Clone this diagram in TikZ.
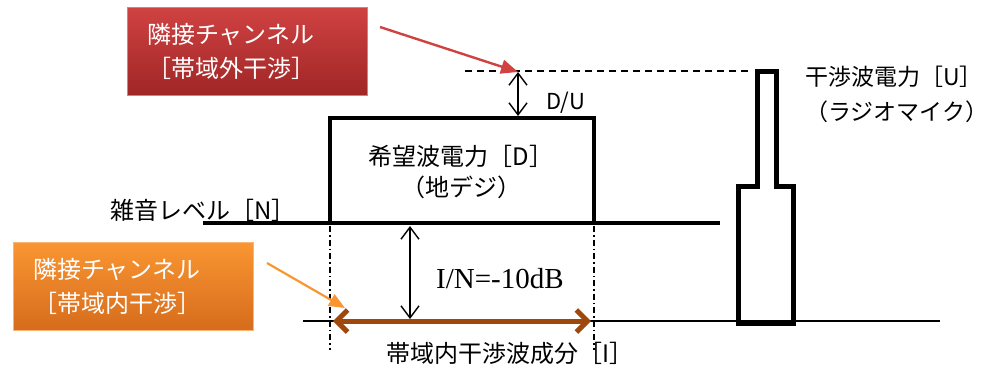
\documentclass[tikz,border=0pt]{standalone}
\usepackage{fontspec}
\setmainfont{Noto Sans CJK JP}
\newfontfamily\serifnum{Liberation Serif}
\usetikzlibrary{arrows.meta}
\definecolor{redtop}{RGB}{208,66,66}
\definecolor{redbot}{RGB}{160,38,38}
\definecolor{orangetop}{RGB}{250,150,50}
\definecolor{orangebot}{RGB}{214,108,28}
\definecolor{brownline}{RGB}{158,72,14}
\tikzset{
  note/.style={minimum width=240pt,minimum height=88pt,text width=200pt,inner xsep=20pt,
    text=white,align=left,font=\fontsize{24}{34}\selectfont},
  txt/.style={font=\fontsize{24}{31}\selectfont,align=left,inner sep=0pt},
  thinarrow/.style={line width=1.4pt,{Straight Barb[length=12pt,width=18pt]}-{Straight Barb[length=12pt,width=18pt]}},
  guide/.style={line width=1.2pt,dash pattern=on 6pt off 3pt on 1.5pt off 3pt},
}
\begin{document}
\begin{tikzpicture}[x=1pt,y=-1pt]
  \useasboundingbox (0,0) rectangle (987,368);
  % notes
  \node[note,top color=redtop,bottom color=redbot,draw=redtop!70!white] (outer) at (247,51)
    {隣接チャンネル\\［帯域外干渉］};
  \node[note,top color=orangetop,bottom color=orangebot,draw=orangetop!70!white] (inner) at (133,286)
    {隣接チャンネル\\［帯域内干渉］};
  % levels
  \draw[line width=1.3pt,dash pattern=on 7pt off 5pt] (465,71) -- (752,71);
  \draw[line width=4pt] (203,223) -- (720,223);
  \draw[line width=4.5pt] (330,223) -- (330,118) -- (594,118) -- (594,223);
  \draw[line width=2.5pt] (303,321) -- (940,321);
  \draw[line width=5pt] (738,323) -- (738,186) -- (757,186) -- (757,71) -- (776,71)
    -- (776,186) -- (793,186) -- (793,323) -- cycle;
  \draw[guide] (330,226) -- (330,350);
  \draw[guide] (594,226) -- (594,350);
  % points
  \coordinate (dutop) at (518,72);
  \coordinate (dubot) at (518,116);
  \coordinate (intop) at (410,226);
  \coordinate (inbot) at (410,319);
  \coordinate (ileft) at (333,321);
  \coordinate (iright) at (591,321);
  \coordinate (redfrom) at (380,27);
  \coordinate (orangefrom) at (267,263);
  \coordinate (orangeto) at (345,308);
  % texts
  \node[txt,align=center] (wanted) at (461,172) {希望波電力［D］\\（地デジ）};
  \node[txt,anchor=west] (noise) at (110,210) {雑音レベル［N］};
  \node[txt,anchor=west,font=\fontsize{22}{30}\selectfont] (du) at (546,103) {D/U};
  \node[txt,anchor=west,font=\fontsize{23}{35}\selectfont] (undesired) at (805,94) {干渉波電力［U］\\（ラジオマイク）};
  \node[txt,anchor=west,font=\serifnum\fontsize{29}{30}\selectfont] (in) at (436,279) {I/N=-10dB};
  \node[txt] (band) at (510,353) {帯域内干渉波成分［I］};
  % arrows
  \begin{scope}
    \draw[thinarrow] (dutop) -- (dubot);
    \draw[thinarrow] (intop) -- (inbot);
    \draw[brownline,line width=5pt,line cap=round,
      {Straight Barb[length=11pt,width=22pt]}-{Straight Barb[length=11pt,width=22pt]}] (ileft) -- (iright);
    \draw[redtop,line width=2.4pt,-{Triangle[length=17pt,width=14pt]}] (redfrom) -- (dutop);
    \draw[orangetop,line width=2.2pt,-{Triangle[length=16pt,width=13pt]}] (orangefrom) -- (orangeto);
  \end{scope}
\end{tikzpicture}
\end{document}
